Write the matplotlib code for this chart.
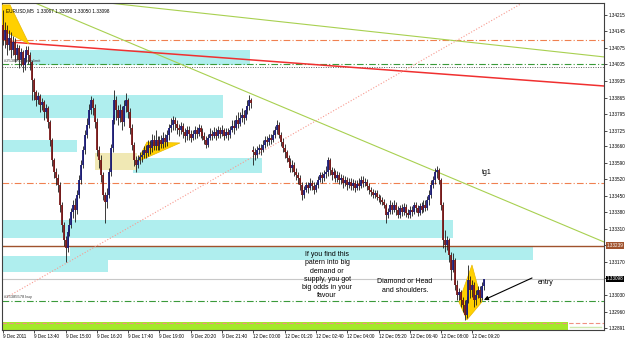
import matplotlib
matplotlib.use("Agg")
import matplotlib.pyplot as plt
from matplotlib.patches import Rectangle, Polygon
import matplotlib.transforms as mtransforms
import numpy as np

plt.rcParams['font.family'] = ['Liberation Sans', 'DejaVu Sans']

# EURUSD M5, 9 Dec 2011 12:20 .. 12 Dec 2011 09:50 (bar index = x)
first_open = 1.34172
monday_bar = 128
monday_open = 1.33643

closes = [
    1.34109, 1.34151, 1.34088, 1.34117, 1.34066, 1.34100, 1.34045, 1.34075, 1.34024, 1.34058,
    1.34003, 1.34033, 1.34066, 1.34045, 1.34016, 1.33940, 1.33889, 1.33855, 1.33872, 1.33834,
    1.33847, 1.33804, 1.33821, 1.33762, 1.33686, 1.33601, 1.33550, 1.33525, 1.33495, 1.33411,
    1.33326, 1.33263, 1.33229, 1.33297, 1.33326, 1.33381, 1.33411, 1.33390, 1.33453, 1.33517,
    1.33580, 1.33643, 1.33707, 1.33749, 1.33813, 1.33855, 1.33821, 1.33762, 1.33643, 1.33601,
    1.33538, 1.33453, 1.33424, 1.33453, 1.33550, 1.33652, 1.33770, 1.33855, 1.33813, 1.33779,
    1.33813, 1.33762, 1.33830, 1.33855, 1.33804, 1.33737, 1.33665, 1.33601, 1.33580, 1.33601,
    1.33614, 1.33622, 1.33643, 1.33631, 1.33665, 1.33652, 1.33686, 1.33660, 1.33686, 1.33660,
    1.33686, 1.33669, 1.33694, 1.33677, 1.33707, 1.33737, 1.33749, 1.33770, 1.33753, 1.33737,
    1.33728, 1.33745, 1.33720, 1.33703, 1.33728, 1.33711, 1.33694, 1.33711, 1.33728, 1.33711,
    1.33737, 1.33720, 1.33703, 1.33686, 1.33665, 1.33694, 1.33711, 1.33703, 1.33720, 1.33703,
    1.33728, 1.33711, 1.33728, 1.33703, 1.33720, 1.33707, 1.33728, 1.33745, 1.33737, 1.33770,
    1.33753, 1.33779, 1.33792, 1.33779, 1.33813, 1.33830, 1.33855, 1.33842, 1.33635, 1.33622,
    1.33643, 1.33652, 1.33643, 1.33665, 1.33686, 1.33677, 1.33694, 1.33686, 1.33707, 1.33728,
    1.33749, 1.33707, 1.33677, 1.33652, 1.33635, 1.33610, 1.33593, 1.33567, 1.33580, 1.33550,
    1.33538, 1.33525, 1.33495, 1.33453, 1.33474, 1.33495, 1.33483, 1.33504, 1.33491, 1.33474,
    1.33495, 1.33517, 1.33538, 1.33525, 1.33542, 1.33550, 1.33601, 1.33559, 1.33538, 1.33550,
    1.33525, 1.33538, 1.33517, 1.33525, 1.33504, 1.33517, 1.33495, 1.33508, 1.33491, 1.33504,
    1.33483, 1.33500, 1.33491, 1.33517, 1.33504, 1.33508, 1.33491, 1.33474, 1.33466, 1.33453,
    1.33462, 1.33445, 1.33440, 1.33432, 1.33424, 1.33411, 1.33369, 1.33381, 1.33411, 1.33390,
    1.33411, 1.33390, 1.33369, 1.33398, 1.33381, 1.33402, 1.33377, 1.33369, 1.33390, 1.33381,
    1.33411, 1.33398, 1.33377, 1.33407, 1.33390, 1.33411, 1.33398, 1.33432, 1.33453, 1.33495,
    1.33517, 1.33550, 1.33559, 1.33517, 1.33411, 1.33263, 1.33242, 1.33263, 1.33199, 1.33136,
    1.33178, 1.33072, 1.33030, 1.33043, 1.33009, 1.32988, 1.32946, 1.33009, 1.33094, 1.33051,
    1.33072, 1.33009, 1.33030, 1.33051, 1.33017, 1.33067, 1.33098,
]
highs = [
    1.34236, 1.34185, 1.34172, 1.34151, 1.34143, 1.34126, 1.34117, 1.34092, 1.34088, 1.34075,
    1.34066, 1.34045, 1.34083, 1.34083, 1.34058, 1.34024, 1.33948, 1.33897, 1.33889, 1.33880,
    1.33863, 1.33855, 1.33838, 1.33830, 1.33770, 1.33694, 1.33610, 1.33567, 1.33542, 1.33508,
    1.33424, 1.33339, 1.33280, 1.33314, 1.33356, 1.33398, 1.33432, 1.33440, 1.33474, 1.33538,
    1.33601, 1.33660, 1.33728, 1.33779, 1.33838, 1.33872, 1.33863, 1.33838, 1.33779, 1.33660,
    1.33622, 1.33550, 1.33466, 1.33483, 1.33567, 1.33669, 1.33792, 1.33897, 1.33872, 1.33834,
    1.33838, 1.33830, 1.33855, 1.33885, 1.33863, 1.33821, 1.33753, 1.33677, 1.33618, 1.33622,
    1.33635, 1.33643, 1.33660, 1.33665, 1.33686, 1.33686, 1.33711, 1.33707, 1.33728, 1.33703,
    1.33703, 1.33707, 1.33720, 1.33711, 1.33728, 1.33753, 1.33779, 1.33787, 1.33783, 1.33770,
    1.33753, 1.33762, 1.33758, 1.33737, 1.33745, 1.33745, 1.33728, 1.33728, 1.33745, 1.33741,
    1.33753, 1.33749, 1.33737, 1.33720, 1.33703, 1.33711, 1.33737, 1.33728, 1.33741, 1.33737,
    1.33745, 1.33741, 1.33749, 1.33737, 1.33737, 1.33737, 1.33745, 1.33770, 1.33770, 1.33792,
    1.33804, 1.33804, 1.33821, 1.33813, 1.33830, 1.33855, 1.33876, 1.33863, 1.33660, 1.33652,
    1.33660, 1.33669, 1.33669, 1.33686, 1.33703, 1.33703, 1.33711, 1.33711, 1.33728, 1.33745,
    1.33770, 1.33762, 1.33720, 1.33694, 1.33669, 1.33643, 1.33622, 1.33610, 1.33601, 1.33593,
    1.33567, 1.33550, 1.33538, 1.33508, 1.33491, 1.33508, 1.33508, 1.33525, 1.33517, 1.33508,
    1.33508, 1.33534, 1.33550, 1.33550, 1.33559, 1.33576, 1.33614, 1.33610, 1.33572, 1.33567,
    1.33559, 1.33555, 1.33550, 1.33542, 1.33538, 1.33534, 1.33529, 1.33525, 1.33525, 1.33521,
    1.33517, 1.33517, 1.33525, 1.33534, 1.33534, 1.33525, 1.33521, 1.33504, 1.33487, 1.33479,
    1.33474, 1.33474, 1.33457, 1.33453, 1.33445, 1.33436, 1.33419, 1.33398, 1.33432, 1.33424,
    1.33432, 1.33424, 1.33407, 1.33411, 1.33415, 1.33419, 1.33415, 1.33394, 1.33407, 1.33407,
    1.33424, 1.33424, 1.33411, 1.33419, 1.33424, 1.33432, 1.33432, 1.33449, 1.33474, 1.33517,
    1.33534, 1.33567, 1.33576, 1.33567, 1.33525, 1.33424, 1.33306, 1.33280, 1.33271, 1.33212,
    1.33208, 1.33187, 1.33094, 1.33060, 1.33051, 1.33022, 1.33009, 1.33026, 1.33157, 1.33111,
    1.33094, 1.33085, 1.33051, 1.33068, 1.33068, 1.33085, 1.33098,
]
lows = [
    1.34088, 1.34075, 1.34045, 1.34066, 1.34033, 1.34045, 1.34016, 1.34024, 1.33990, 1.33999,
    1.33973, 1.33982, 1.34016, 1.34007, 1.33982, 1.33855, 1.33855, 1.33830, 1.33838, 1.33804,
    1.33813, 1.33770, 1.33779, 1.33737, 1.33660, 1.33576, 1.33525, 1.33495, 1.33466, 1.33381,
    1.33297, 1.33237, 1.33170, 1.33212, 1.33280, 1.33314, 1.33356, 1.33339, 1.33373, 1.33440,
    1.33500, 1.33567, 1.33627, 1.33694, 1.33737, 1.33796, 1.33792, 1.33737, 1.33618, 1.33567,
    1.33508, 1.33432, 1.33335, 1.33398, 1.33440, 1.33534, 1.33635, 1.33753, 1.33770, 1.33749,
    1.33762, 1.33728, 1.33745, 1.33804, 1.33779, 1.33711, 1.33643, 1.33576, 1.33550, 1.33567,
    1.33584, 1.33593, 1.33610, 1.33610, 1.33618, 1.33627, 1.33635, 1.33643, 1.33643, 1.33643,
    1.33643, 1.33652, 1.33652, 1.33656, 1.33660, 1.33686, 1.33720, 1.33728, 1.33728, 1.33711,
    1.33703, 1.33711, 1.33694, 1.33677, 1.33686, 1.33686, 1.33677, 1.33686, 1.33690, 1.33694,
    1.33703, 1.33694, 1.33686, 1.33669, 1.33652, 1.33656, 1.33686, 1.33686, 1.33694, 1.33686,
    1.33694, 1.33694, 1.33703, 1.33686, 1.33694, 1.33686, 1.33694, 1.33720, 1.33711, 1.33728,
    1.33737, 1.33745, 1.33762, 1.33753, 1.33770, 1.33796, 1.33813, 1.33821, 1.33580, 1.33601,
    1.33610, 1.33627, 1.33622, 1.33635, 1.33652, 1.33660, 1.33665, 1.33669, 1.33677, 1.33694,
    1.33711, 1.33694, 1.33660, 1.33635, 1.33610, 1.33593, 1.33576, 1.33550, 1.33550, 1.33534,
    1.33517, 1.33500, 1.33474, 1.33432, 1.33440, 1.33466, 1.33462, 1.33474, 1.33474, 1.33457,
    1.33466, 1.33483, 1.33508, 1.33504, 1.33512, 1.33525, 1.33534, 1.33538, 1.33517, 1.33525,
    1.33508, 1.33508, 1.33500, 1.33500, 1.33483, 1.33491, 1.33474, 1.33483, 1.33474, 1.33474,
    1.33466, 1.33474, 1.33474, 1.33483, 1.33487, 1.33491, 1.33474, 1.33457, 1.33449, 1.33440,
    1.33440, 1.33432, 1.33424, 1.33415, 1.33411, 1.33398, 1.33335, 1.33356, 1.33373, 1.33373,
    1.33381, 1.33369, 1.33356, 1.33356, 1.33364, 1.33369, 1.33360, 1.33356, 1.33356, 1.33364,
    1.33373, 1.33381, 1.33364, 1.33369, 1.33377, 1.33381, 1.33385, 1.33390, 1.33411, 1.33440,
    1.33483, 1.33500, 1.33525, 1.33500, 1.33390, 1.33229, 1.33212, 1.33221, 1.33170, 1.33094,
    1.33127, 1.33051, 1.33009, 1.33009, 1.32979, 1.32958, 1.32924, 1.32933, 1.32996, 1.33017,
    1.33022, 1.32979, 1.32988, 1.33017, 1.33000, 1.33009, 1.33050,
]

# time axis labels (every 16 bars)
x_labels = ["9 Dec 2011", "9 Dec 13:40", "9 Dec 15:00", "9 Dec 16:20", "9 Dec 17:40",
            "9 Dec 19:00", "9 Dec 20:20", "9 Dec 21:40", "12 Dec 00:00", "12 Dec 01:20",
            "12 Dec 02:40", "12 Dec 04:00", "12 Dec 05:20", "12 Dec 06:40", "12 Dec 08:00",
            "12 Dec 09:20"]
price_ticks = [1.34215, 1.34145, 1.34075, 1.34005, 1.33935, 1.33865, 1.33795, 1.33725,
               1.33660, 1.33590, 1.33520, 1.33450, 1.33380, 1.33310, 1.33240, 1.33170,
               1.33100, 1.33030, 1.32960, 1.32891]

# supply / demand zones: start bar, end bar, top, bottom
zone_start = [13.8, -0.5, -0.5, 66.5, -0.5, 34.3, -0.5]
zone_end = [126.3, 112.5, 37.8, 132.4, 230.0, 271.0, 53.7]
zone_top = [1.34066, 1.33877, 1.33686, 1.33610, 1.33348, 1.33238, 1.33195]
zone_bottom = [1.34003, 1.33779, 1.33635, 1.33546, 1.33272, 1.33179, 1.33128]
beige_zone = [47.0, 68.5, 1.33631, 1.33559]
green_zone = [-0.5, 289.0, 1.32916, 1.32860]

# horizontal levels
orange_levels = [1.34109, 1.33504]
green_levels = [1.34007, 1.33005]
dotted_level = 1.33995
brown_level = 1.33239
bid_level = 1.33098
stop_level = 1.32912

# pattern drawings (bar, price)
wedge_top = [(-0.5, 1.34257), (3.6, 1.34257), (13.3, 1.34092), (-0.5, 1.34151)]
wedge_mid = [(68.5, 1.33593), (73.6, 1.33677), (90.5, 1.33673)]
diamond = [(233.1, 1.33001), (239.8, 1.33157), (244.9, 1.33001), (237.2, 1.32925)]

# trend lines, two anchor points each
green_line1 = [(94.1, 1.33995), (295.0, 1.33297)]
green_line2 = [(100.7, 1.34223), (307.3, 1.34037)]
red_line = [(3.6, 1.34100), (307.3, 1.33914)]
pink_line = [(2.0, 1.33021), (151.8, 1.33728)]

# figure
fig = plt.figure(figsize=(6.25, 3.4), dpi=100)
fig.patch.set_facecolor("white")
ax = fig.add_axes([2 / 625, 10 / 340, 602 / 625, 327 / 340])
ax.set_xlim(-0.51, 307.3)
ax.set_ylim(1.32882, 1.34265)

# zones
for s, e, t, b in zip(zone_start, zone_end, zone_top, zone_bottom):
    ax.add_patch(Rectangle((s, b), e - s, t - b, facecolor="#afeeee", edgecolor="none", zorder=1))
ax.add_patch(Rectangle((beige_zone[0], beige_zone[3]), beige_zone[1] - beige_zone[0],
                       beige_zone[2] - beige_zone[3], facecolor="#f0e8b4", edgecolor="none", zorder=1))
ax.add_patch(Rectangle((green_zone[0], green_zone[3]), green_zone[1] - green_zone[0],
                       green_zone[2] - green_zone[3], facecolor="#a4e82a", edgecolor="none", zorder=1))
ax.plot([290, 306], [1.32893, 1.32893], color="#d0e8b0", lw=1.0, zorder=1)

# horizontal lines
for lv in orange_levels:
    ax.axhline(lv, color="#f08050", lw=0.8, ls=(0, (6, 2, 1, 2)), zorder=2)
for lv in green_levels:
    ax.axhline(lv, color="#3a9a3a", lw=0.8, ls=(0, (6, 2, 1, 2)), zorder=2)
ax.axhline(dotted_level, color="#606060", lw=0.7, ls=(0, (1, 1.5)), zorder=2)
ax.axhline(brown_level, color="#a0522d", lw=1.0, zorder=2)
ax.axhline(bid_level, color="#c8c8c8", lw=0.8, zorder=2)
ax.axhline(stop_level, color="#f09080", lw=0.8, ls=(0, (4, 2)), zorder=2)

# trend lines
ax.axline(green_line1[0], green_line1[1], color="#a8d050", lw=0.8, zorder=2)
ax.axline(green_line2[0], green_line2[1], color="#a8d050", lw=0.8, zorder=2)
(x0, y0), (x1, y1) = red_line
ax.plot([x0, x1], [y0, y1], color="#f03030", lw=1.1, zorder=2)
(x0, y0), (x1, y1) = pink_line
slope = (y1 - y0) / (x1 - x0)
ax.plot([x0, 320], [y0, y0 + slope * (320 - x0)], color="#f89a90", lw=0.8,
        ls=(0, (1, 1.6)), zorder=2)

# yellow pattern shapes
for poly in (wedge_top, wedge_mid, diamond):
    ax.add_patch(Polygon(poly, closed=True, facecolor="#ffd000", edgecolor="#e8b800",
                         lw=0.5, zorder=3))

# candles
idx = np.arange(len(closes))
opens = [first_open] + closes[:-1]
opens[monday_bar] = monday_open
opens = np.array(opens)
cl = np.array(closes)
bull = cl >= opens
ax.vlines(idx, lows, highs, color="#1a1a1a", lw=0.6, zorder=4)
ax.vlines(idx[bull], opens[bull], cl[bull], color="#1c1c78", lw=1.3, zorder=5)
ax.vlines(idx[~bull], opens[~bull], cl[~bull], color="#7a1818", lw=1.3, zorder=5)

# texts
ax.text(0.006, 0.985, "EURUSD,M5  1.33067 1.33098 1.33050 1.33098", transform=ax.transAxes,
        fontsize=3.4, va="top", ha="left", color="black", zorder=6)
ax.text(0.5, 1.34013, "#25384576 buy limit", fontsize=3.0, color="#404040", va="bottom", zorder=6)
ax.text(0.5, 1.33011, "#25385578 buy", fontsize=3.0, color="#404040", va="bottom", zorder=6)
ax.text(247.5, 1.33550, "tg1", fontsize=5, ha="center", va="center", zorder=6)
ax.text(273.5, 1.33081, "entry", fontsize=5, ha="left", va="center", zorder=6)
ax.annotate("", xy=(245.9, 1.33009), xytext=(270.5, 1.33102),
            arrowprops=dict(arrowstyle="-|>", color="black", lw=0.8,
                            mutation_scale=6, shrinkA=0, shrinkB=0), zorder=6)
ax.text(165.7, 1.33216, "If you find this\npatern into big\ndemand or\nsupply, you got\nbig odds in your\nfavour",
        fontsize=5, ha="center", va="top", linespacing=1.25, zorder=6)
ax.text(205.5, 1.33068, "Diamond or Head\nand shoulders.", fontsize=5, ha="center",
        va="center", linespacing=1.25, zorder=6)

# axes styling
for sp in ax.spines.values():
    sp.set_color("#404040")
    sp.set_linewidth(0.8)
ax.yaxis.tick_right()
ax.set_yticks(price_ticks)
# the two levels covered by the price boxes show no plain label
ax.set_yticklabels(["" if p in (1.33240, 1.33100) else f"{p:.5f}" for p in price_ticks])
ax.tick_params(axis="y", labelsize=3.3, length=2, width=0.5, pad=1.5, colors="black")
ax.set_xticks(np.arange(len(x_labels)) * 16)
ax.set_xticklabels(x_labels, ha="left")
ax.tick_params(axis="x", labelsize=3.3, length=2, width=0.5, pad=1.0, colors="black")

# price boxes on the scale
trans = mtransforms.blended_transform_factory(ax.transAxes, ax.transData)
ax.text(1.004, brown_level, f"{brown_level:.5f}", transform=trans, fontsize=3.3, color="white",
        va="center", ha="left", zorder=7,
        bbox=dict(boxstyle="square,pad=0.15", facecolor="#a0522d", edgecolor="none"))
ax.text(1.004, bid_level, f"{bid_level:.5f}", transform=trans, fontsize=3.3, color="white",
        va="center", ha="left", zorder=7,
        bbox=dict(boxstyle="square,pad=0.15", facecolor="black", edgecolor="none"))

fig.savefig("out.png", dpi=100, facecolor="white")
